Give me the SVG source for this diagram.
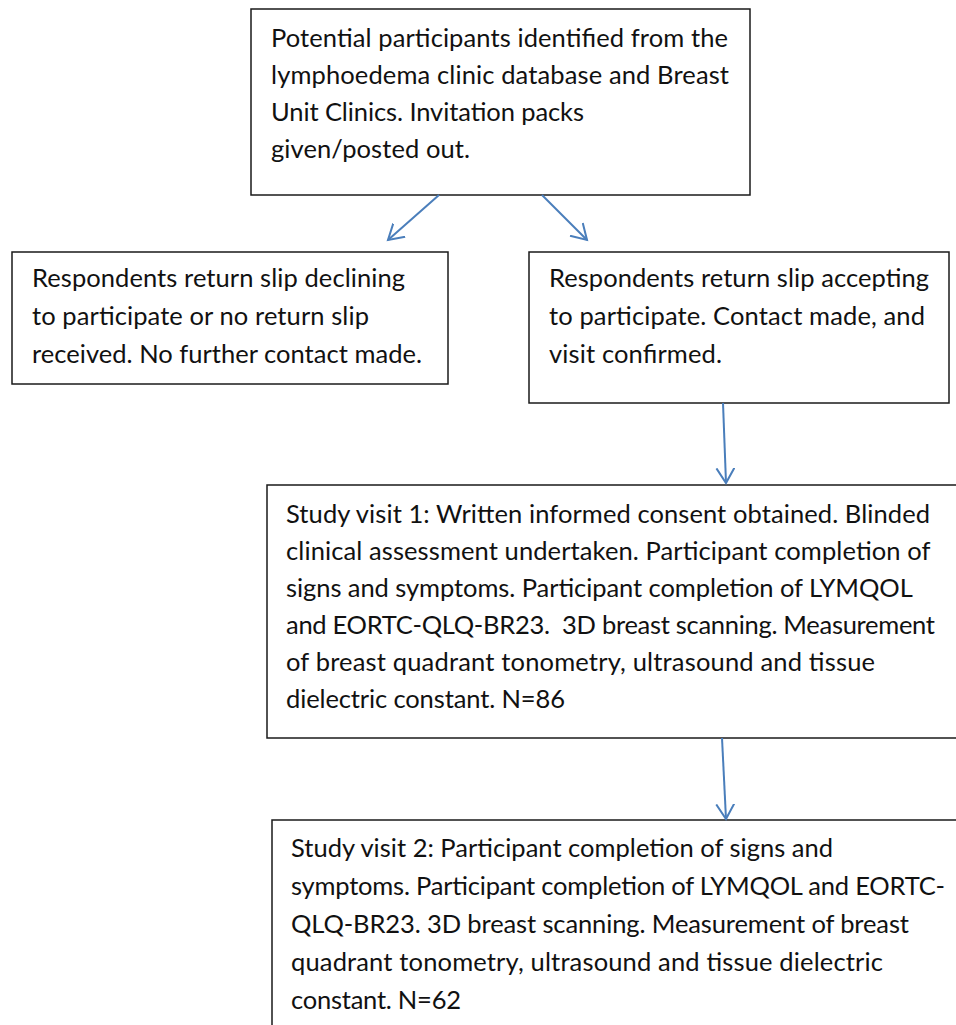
<svg xmlns="http://www.w3.org/2000/svg" width="956" height="1025" viewBox="0 0 956 1025">
<style>
.box{fill:#fff;stroke:#1a1a1a;stroke-width:1.5}
.t{font-family:Lato,"Liberation Sans",sans-serif;font-size:25.5px;fill:#111}
.c{stroke:#4a7ebb;stroke-width:2;fill:none}
</style>
<defs>
<marker id="ah" viewBox="0 0 18 20" refX="15" refY="10" markerWidth="18" markerHeight="20" markerUnits="userSpaceOnUse" orient="auto">
<path d="M0,1 L15,10 L0,19" fill="none" stroke="#4a7ebb" stroke-width="2"/>
</marker>
</defs>
<rect width="956" height="1025" fill="#fff"/>
<g id="n1">
<rect class="box" x="251" y="9" width="499" height="186"/>
<text class="t" lengthAdjust="spacingAndGlyphs">
<tspan x="271" y="47" textLength="457">Potential participants identified from the</tspan>
<tspan x="271" y="84" textLength="458">lymphoedema clinic database and Breast</tspan>
<tspan x="271" y="121" textLength="313">Unit Clinics. Invitation packs</tspan>
<tspan x="271" y="158" textLength="199">given/posted out.</tspan>
</text>
</g>
<g id="n2">
<rect class="box" x="12" y="252" width="436" height="132"/>
<text class="t" lengthAdjust="spacingAndGlyphs">
<tspan x="32" y="287" textLength="373">Respondents return slip declining</tspan>
<tspan x="32" y="325" textLength="337">to participate or no return slip</tspan>
<tspan x="32" y="363" textLength="390">received. No further contact made.</tspan>
</text>
</g>
<g id="n3">
<rect class="box" x="529" y="252" width="420" height="151"/>
<text class="t" lengthAdjust="spacingAndGlyphs">
<tspan x="549" y="287" textLength="380">Respondents return slip accepting</tspan>
<tspan x="549" y="325" textLength="376">to participate. Contact made, and</tspan>
<tspan x="549" y="363" textLength="173">visit confirmed.</tspan>
</text>
</g>
<g id="n4">
<rect class="box" x="267" y="485" width="720" height="253"/>
<text class="t" lengthAdjust="spacingAndGlyphs">
<tspan x="286" y="523" textLength="644">Study visit 1: Written informed consent obtained. Blinded</tspan>
<tspan x="286" y="560" textLength="644">clinical assessment undertaken. Participant completion of</tspan>
<tspan x="286" y="597" textLength="626">signs and symptoms. Participant completion of LYMQOL</tspan>
<tspan x="286" y="634" textLength="649" xml:space="preserve">and EORTC-QLQ-BR23.  3D breast scanning. Measurement</tspan>
<tspan x="286" y="671" textLength="589">of breast quadrant tonometry, ultrasound and tissue</tspan>
<tspan x="286" y="708" textLength="279">dielectric constant. N=86</tspan>
</text>
</g>
<g id="n5">
<rect class="box" x="272" y="820" width="720" height="240"/>
<text class="t" lengthAdjust="spacingAndGlyphs">
<tspan x="291" y="857" textLength="542">Study visit 2: Participant completion of signs and</tspan>
<tspan x="291" y="895" textLength="654">symptoms. Participant completion of LYMQOL and EORTC-</tspan>
<tspan x="291" y="933" textLength="618">QLQ-BR23. 3D breast scanning. Measurement of breast</tspan>
<tspan x="291" y="971" textLength="592">quadrant tonometry, ultrasound and tissue dielectric</tspan>
<tspan x="291" y="1009" textLength="170">constant. N=62</tspan>
</text>
</g>
<g id="connectors">
<line class="c" x1="439" y1="195" x2="388" y2="240" marker-end="url(#ah)"/>
<line class="c" x1="542" y1="195" x2="587" y2="240" marker-end="url(#ah)"/>
<line class="c" x1="723" y1="403" x2="726" y2="483" marker-end="url(#ah)"/>
<line class="c" x1="722" y1="738" x2="726" y2="819" marker-end="url(#ah)"/>
</g>
</svg>
